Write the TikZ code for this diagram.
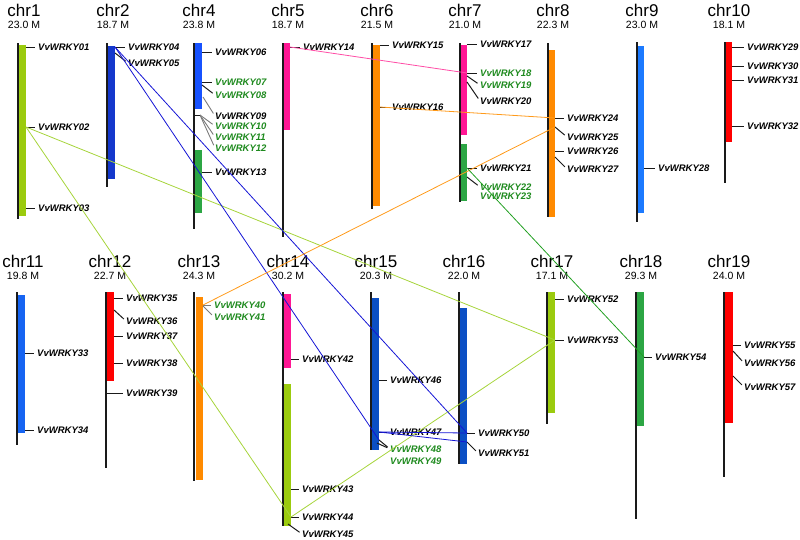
\documentclass[tikz,border=0pt]{standalone}
\usepackage{fontspec}
\setmainfont{Liberation Sans}
\usepackage{tikz}
\definecolor{wkInk}{HTML}{1A1A1A}
\definecolor{wkLime}{HTML}{9BCB0E}
\definecolor{wkNavy}{HTML}{1438CC}
\definecolor{wkBlue}{HTML}{1752FF}
\definecolor{wkSky}{HTML}{1C7AFF}
\definecolor{wkAzure}{HTML}{1664F2}
\definecolor{wkCobalt}{HTML}{0B4FC4}
\definecolor{wkLeaf}{HTML}{2CA644}
\definecolor{wkPink}{HTML}{FF1694}
\definecolor{wkOrange}{HTML}{FF8A00}
\definecolor{wkRed}{HTML}{FF0000}
\definecolor{wkGene}{HTML}{1E8A1E}
\definecolor{wkGrey}{HTML}{7A7A7A}
\definecolor{synLime}{HTML}{A6D43A}
\definecolor{synBlue}{HTML}{1515D5}
\definecolor{synPink}{HTML}{FF4DA6}
\definecolor{synOrange}{HTML}{FF9A1A}
\definecolor{synGreen}{HTML}{22A022}
\tikzset{
  chrline/.style ={wkInk,line width=1.3pt},
  chrname/.style ={font=\fontsize{17}{17}\selectfont,anchor=base,inner sep=0pt},
  chrsize/.style ={font=\fontsize{10.5}{10.5}\selectfont,anchor=base,inner sep=0pt},
  gene/.style    ={font=\fontsize{9.5}{9.5}\selectfont\bfseries\itshape,anchor=west,inner sep=0pt},
  ggene/.style   ={gene,text=wkGene},
  tick/.style    ={wkInk,line width=1pt,shorten >=3pt},
  ftick/.style   ={tick,wkGrey,line width=0.9pt},
  syn/.style     ={line width=0.8pt},
}

\begin{document}
\begin{tikzpicture}[x=1pt,y=-1pt]
\useasboundingbox (0,0) rectangle (800,539);

%% top row
% chr1
\fill[wkLime] (19,45) rectangle (26,216);
\draw[chrline] (18,43) -- (18,219);
\node[chrname] (n1) at (24,16) {chr1};
\node[chrsize] (s1) at (24,28) {23.0 M};
\coordinate (g01) at (26,47);  \node[gene] (l01) at (38,47) {VvWRKY01};  \draw[tick] (g01) -- (l01.west);
\coordinate (g02) at (26,127); \node[gene] (l02) at (38,127) {VvWRKY02}; \draw[tick] (g02) -- (l02.west);
\coordinate (g03) at (26,208); \node[gene] (l03) at (38,208) {VvWRKY03}; \draw[tick] (g03) -- (l03.west);

% chr2
\fill[wkNavy] (108,46) rectangle (115,179);
\draw[chrline] (107,43) -- (107,187);
\node[chrname] (n2) at (113,16) {chr2};
\node[chrsize] (s2) at (113,28) {18.7 M};
\coordinate (g04) at (115,47); \node[gene] (l04) at (128,47) {VvWRKY04}; \draw[tick] (g04) -- (l04.west);
\coordinate (g05) at (115,53); \node[gene] (l05) at (128,63) {VvWRKY05}; \draw[tick] (g05) -- (l05.west);

% chr4
\fill[wkBlue] (195,43) rectangle (202,109);
\fill[wkLeaf] (195,150) rectangle (202,213);
\draw[chrline] (194,43) -- (194,229);
\node[chrname] (n4) at (199,16) {chr4};
\node[chrsize] (s4) at (199,28) {23.8 M};
\coordinate (g06) at (202,52);  \node[gene] (l06) at (215,52) {VvWRKY06};   \draw[tick] (g06) -- (l06.west);
\coordinate (g07) at (202,82);  \node[ggene] (l07) at (215,82) {VvWRKY07};  \draw[tick] (g07) -- (l07.west);
\coordinate (g08) at (202,85);  \node[ggene] (l08) at (215,95) {VvWRKY08};  \draw[tick] (g08) -- (l08.west);
\coordinate (g09) at (203,97);  \node[gene] (l09) at (215,116) {VvWRKY09};  \draw[ftick] (g09) -- (l09.west);
\coordinate (g10) at (200,115); \node[ggene] (l10) at (215,126) {VvWRKY10}; \draw[ftick] (g10) -- (l10.west);
\coordinate (g11) at (200,115); \node[ggene] (l11) at (215,137) {VvWRKY11}; \draw[ftick] (g11) -- (l11.west);
\coordinate (g12) at (200,115); \node[ggene] (l12) at (215,148) {VvWRKY12}; \draw[ftick] (g12) -- (l12.west);
\draw[wkInk,line width=1pt] (194,115) -- (g10);
\coordinate (g13) at (202,172); \node[gene] (l13) at (215,172) {VvWRKY13};  \draw[tick] (g13) -- (l13.west);

% chr5
\fill[wkPink] (284,43) rectangle (290,130);
\draw[chrline] (283,43) -- (283,237);
\node[chrname] (n5) at (288,16) {chr5};
\node[chrsize] (s5) at (288,28) {18.7 M};
\coordinate (g14) at (290,47); \node[gene] (l14) at (303,47) {VvWRKY14}; \draw[tick] (g14) -- (l14.west);

% chr6
\fill[wkOrange] (373,45) rectangle (380,206);
\draw[chrline] (372,43) -- (372,209);
\node[chrname] (n6) at (377,16) {chr6};
\node[chrsize] (s6) at (377,28) {21.5 M};
\coordinate (g15) at (380,45);  \node[gene] (l15) at (392,45) {VvWRKY15};  \draw[tick] (g15) -- (l15.west);
\coordinate (g16) at (380,107); \node[gene] (l16) at (392,107) {VvWRKY16}; \draw[tick] (g16) -- (l16.west);

% chr7
\fill[wkPink] (461,45) rectangle (467,135);
\fill[wkLeaf] (461,144) rectangle (467,201);
\draw[chrline] (460,43) -- (460,202);
\node[chrname] (n7) at (465,16) {chr7};
\node[chrsize] (s7) at (465,28) {21.0 M};
\coordinate (g17) at (467,44);  \node[gene] (l17) at (480,44) {VvWRKY17};   \draw[tick] (g17) -- (l17.west);
\coordinate (g18) at (467,73);  \node[ggene] (l18) at (480,73) {VvWRKY18};  \draw[tick] (g18) -- (l18.west);
\coordinate (g19) at (467,76);  \node[ggene] (l19) at (480,85) {VvWRKY19};  \draw[tick] (g19) -- (l19.west);
\coordinate (g20) at (467,82);  \node[gene] (l20) at (480,101) {VvWRKY20};  \draw[tick] (g20) -- (l20.west);
\coordinate (g21) at (467,168); \node[gene] (l21) at (480,168) {VvWRKY21};  \draw[tick] (g21) -- (l21.west);
\coordinate (g22) at (467,177); \node[ggene] (l22) at (480,187) {VvWRKY22}; \draw[tick] (g22) -- (l22.west);
\node[ggene] (l23) at (480,196) {VvWRKY23};

% chr8
\fill[wkOrange] (549,50) rectangle (555,217);
\draw[chrline] (548,43) -- (548,217);
\node[chrname] (n8) at (553,16) {chr8};
\node[chrsize] (s8) at (553,28) {22.3 M};
\coordinate (g24) at (555,118); \node[gene] (l24) at (567,118) {VvWRKY24}; \draw[tick] (g24) -- (l24.west);
\coordinate (g25) at (555,127); \node[gene] (l25) at (567,137) {VvWRKY25}; \draw[tick] (g25) -- (l25.west);
\coordinate (g26) at (555,151); \node[gene] (l26) at (567,151) {VvWRKY26}; \draw[tick] (g26) -- (l26.west);
\coordinate (g27) at (555,157); \node[gene] (l27) at (567,169) {VvWRKY27}; \draw[tick] (g27) -- (l27.west);

% chr9
\fill[wkSky] (638,46) rectangle (644,213);
\draw[chrline] (637,42) -- (637,222);
\node[chrname] (n9) at (642,16) {chr9};
\node[chrsize] (s9) at (642,28) {23.0 M};
\coordinate (g28) at (644,168); \node[gene] (l28) at (658,168) {VvWRKY28}; \draw[tick] (g28) -- (l28.west);

% chr10
\fill[wkRed] (726,42) rectangle (732,142);
\draw[chrline] (725,42) -- (725,183);
\node[chrname] (n10) at (729,16) {chr10};
\node[chrsize] (s10) at (729,28) {18.1 M};
\coordinate (g29) at (732,47);  \node[gene] (l29) at (747,47) {VvWRKY29};  \draw[tick] (g29) -- (l29.west);
\coordinate (g30) at (732,66);  \node[gene] (l30) at (747,66) {VvWRKY30};  \draw[tick] (g30) -- (l30.west);
\coordinate (g31) at (732,80);  \node[gene] (l31) at (747,80) {VvWRKY31};  \draw[tick] (g31) -- (l31.west);
\coordinate (g32) at (732,126); \node[gene] (l32) at (747,126) {VvWRKY32}; \draw[tick] (g32) -- (l32.west);

%% bottom row
% chr11
\fill[wkAzure] (18,295) rectangle (25,433);
\draw[chrline] (17,292) -- (17,445);
\node[chrname] (n11) at (23,267) {chr11};
\node[chrsize] (s11) at (23,279) {19.8 M};
\coordinate (g33) at (25,353); \node[gene] (l33) at (37,353) {VvWRKY33}; \draw[tick] (g33) -- (l33.west);
\coordinate (g34) at (25,430); \node[gene] (l34) at (37,430) {VvWRKY34}; \draw[tick] (g34) -- (l34.west);

% chr12
\fill[wkRed] (107,292) rectangle (114,381);
\draw[chrline] (106,292) -- (106,468);
\node[chrname] (n12) at (110,267) {chr12};
\node[chrsize] (s12) at (110,279) {22.7 M};
\coordinate (g35) at (114,298); \node[gene] (l35) at (126,298) {VvWRKY35}; \draw[tick] (g35) -- (l35.west);
\coordinate (g36) at (114,310); \node[gene] (l36) at (126,321) {VvWRKY36}; \draw[tick] (g36) -- (l36.west);
\coordinate (g37) at (114,336); \node[gene] (l37) at (126,336) {VvWRKY37}; \draw[tick] (g37) -- (l37.west);
\coordinate (g38) at (114,363); \node[gene] (l38) at (126,363) {VvWRKY38}; \draw[tick] (g38) -- (l38.west);
\coordinate (g39) at (107,393); \node[gene] (l39) at (126,393) {VvWRKY39}; \draw[tick] (g39) -- (l39.west);

% chr13
\fill[wkOrange] (196,297) rectangle (203,480);
\draw[chrline] (194,292) -- (194,481);
\node[chrname] (n13) at (199,267) {chr13};
\node[chrsize] (s13) at (199,279) {24.3 M};
\coordinate (g40) at (203,305); \node[ggene] (l40) at (214,305) {VvWRKY40}; \draw[ftick] (g40) -- (l40.west);
\coordinate (g41) at (203,306); \node[ggene] (l41) at (214,317) {VvWRKY41}; \draw[ftick] (g41) -- (l41.west);

% chr14
\fill[wkPink] (284,294) rectangle (291,368);
\fill[wkLime] (284,384) rectangle (291,526);
\draw[chrline] (283,292) -- (283,526);
\node[chrname] (n14) at (288,267) {chr14};
\node[chrsize] (s14) at (288,279) {30.2 M};
\coordinate (g42) at (291,359); \node[gene] (l42) at (302,359) {VvWRKY42}; \draw[tick] (g42) -- (l42.west);
\coordinate (g43) at (291,489); \node[gene] (l43) at (302,489) {VvWRKY43}; \draw[tick] (g43) -- (l43.west);
\coordinate (g44) at (291,517); \node[gene] (l44) at (302,517) {VvWRKY44}; \draw[tick] (g44) -- (l44.west);
\coordinate (g45) at (288,524); \node[gene] (l45) at (302,534) {VvWRKY45}; \draw[tick] (g45) -- (l45.west);

% chr15
\fill[wkCobalt] (372,298) rectangle (379,450);
\draw[chrline] (371,292) -- (371,450);
\node[chrname] (n15) at (376,267) {chr15};
\node[chrsize] (s15) at (376,279) {20.3 M};
\coordinate (g46) at (379,380); \node[gene] (l46) at (390,380) {VvWRKY46};  \draw[tick] (g46) -- (l46.west);
\coordinate (g47) at (379,432); \node[gene] (l47) at (390,432) {VvWRKY47};  \draw[tick] (g47) -- (l47.west);
\coordinate (g48) at (379,440); \node[ggene] (l48) at (390,449) {VvWRKY48}; \draw[tick] (g48) -- (l48.west);
\coordinate (g49) at (377,443); \node[ggene] (l49) at (390,461) {VvWRKY49}; \draw[tick] (g49) -- (l48.west);

% chr16
\fill[wkCobalt] (460,308) rectangle (467,464);
\draw[chrline] (459,292) -- (459,464);
\node[chrname] (n16) at (464,267) {chr16};
\node[chrsize] (s16) at (464,279) {22.0 M};
\coordinate (g50) at (467,433); \node[gene] (l50) at (478,433) {VvWRKY50}; \draw[tick] (g50) -- (l50.west);
\coordinate (g51) at (467,442); \node[gene] (l51) at (478,453) {VvWRKY51}; \draw[tick] (g51) -- (l51.west);

% chr17
\fill[wkLime] (548,292) rectangle (555,413);
\draw[chrline] (547,292) -- (547,424);
\node[chrname] (n17) at (552,267) {chr17};
\node[chrsize] (s17) at (552,279) {17.1 M};
\coordinate (g52) at (555,299); \node[gene] (l52) at (567,299) {VvWRKY52}; \draw[tick] (g52) -- (l52.west);
\coordinate (g53) at (555,340); \node[gene] (l53) at (567,340) {VvWRKY53}; \draw[tick] (g53) -- (l53.west);

% chr18
\fill[wkLeaf] (637,292) rectangle (644,426);
\draw[chrline] (636,292) -- (636,519);
\node[chrname] (n18) at (641,267) {chr18};
\node[chrsize] (s18) at (641,279) {29.3 M};
\coordinate (g54) at (644,357); \node[gene] (l54) at (655,357) {VvWRKY54}; \draw[tick] (g54) -- (l54.west);

% chr19
\fill[wkRed] (725,292) rectangle (733,423);
\draw[chrline] (724,292) -- (724,477);
\node[chrname] (n19) at (729,267) {chr19};
\node[chrsize] (s19) at (729,279) {24.0 M};
\coordinate (g55) at (733,345); \node[gene] (l55) at (744,345) {VvWRKY55}; \draw[tick] (g55) -- (l55.west);
\coordinate (g56) at (733,351); \node[gene] (l56) at (744,363) {VvWRKY56}; \draw[tick] (g56) -- (l56.west);
\coordinate (g57) at (733,376); \node[gene] (l57) at (744,387) {VvWRKY57}; \draw[tick] (g57) -- (l57.west);

%% duplicated pairs
\draw[syn,synLime] (g02) -- (g44);
\draw[syn,synLime] (g02) -- (g53);
\draw[syn,synLime] (g53) -- (g44);
\draw[syn,synBlue] (g04) -- (g50);
\draw[syn,synBlue] (g04) -- (g48);
\draw[syn,synBlue] (g47) -- (g50);
\draw[syn,synBlue] (g47) -- (g51);
\draw[syn,synPink] (g14) -- (g18);
\draw[syn,synOrange] (g16) -- (g24);
\draw[syn,synOrange] (g40) -- (g25);
\draw[syn,synGreen] (g21) -- (g54);
\end{tikzpicture}
\end{document}
